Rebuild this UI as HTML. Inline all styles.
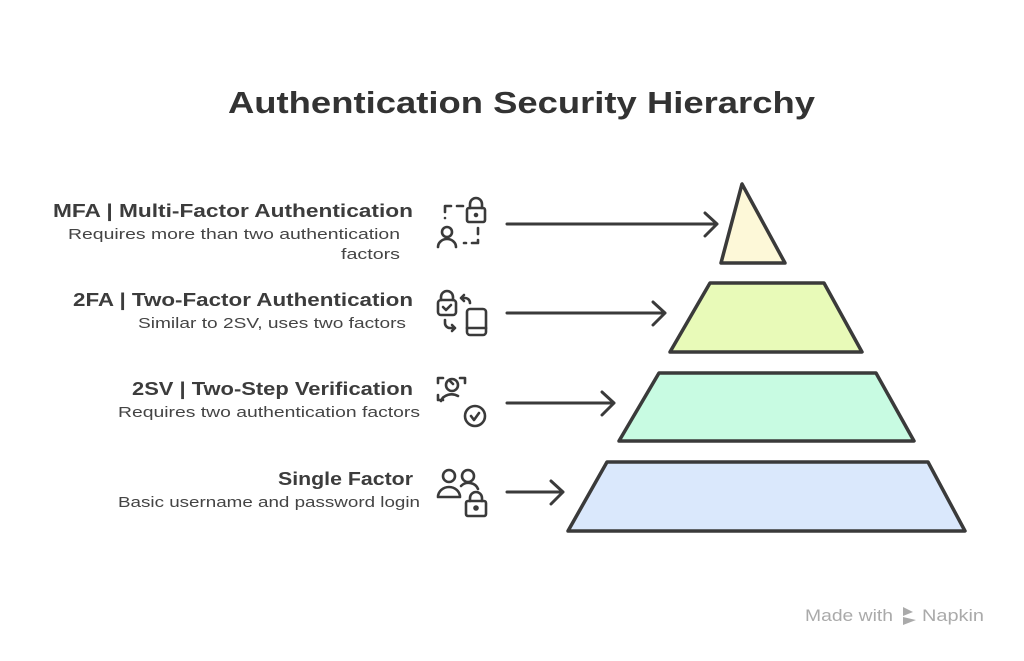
<!DOCTYPE html>
<html><head><meta charset="utf-8"><style>
html,body{margin:0;padding:0;background:#fff;width:1024px;height:661px;overflow:hidden}
svg{display:block}
text{font-family:"Liberation Sans",sans-serif;fill:#3c3c3c}
.h{font-weight:bold;font-size:18px}
.d{font-size:15px;fill:#444}
</style></head><body>
<svg width="1024" height="661" viewBox="0 0 1024 661">
<text x="228" y="113" textLength="587" lengthAdjust="spacingAndGlyphs" style="font-weight:bold;font-size:31px;fill:#333">Authentication Security Hierarchy</text>

<g stroke="#3a3a3a" stroke-width="3.5" stroke-linejoin="round">
<polygon points="742,184 721,263 785,263" fill="#fdf8d8"/>
<polygon points="710,283 824,283 862,352 670,352" fill="#e8fab8"/>
<polygon points="659,373 876,373 914,441 619,441" fill="#c8fbe2"/>
<polygon points="607,462 928,462 965,531 568,531" fill="#dae8fc"/>
</g>

<g stroke="#3a3a3a" stroke-width="3" fill="none" stroke-linecap="round" stroke-linejoin="round">
<path d="M507,224 H717 M705,213 L717,224 L705,236"/>
<path d="M507,313 H665 M653,302 L665,313 L653,325"/>
<path d="M507,403 H614 M602,392 L614,403 L602,415"/>
<path d="M507,492 H563 M551,481 L563,492 L551,504"/>
</g>

<g stroke="#3a3a3a" stroke-width="2.6" fill="none" stroke-linecap="round" stroke-linejoin="round">
<path d="M445,212 v-6 h6 M457,206 h6 M445,218 v0"/>
<rect x="467" y="208" width="18" height="14" rx="2"/><path d="M470,208 v-4 a6,6 0 0 1 12,0 v4"/>
<circle cx="476" cy="215" r="1" fill="#3a3a3a"/>
<path d="M478,228 v6 M478,240 v3 h-6 M466,243 h-2"/>
<circle cx="447" cy="232" r="5"/><path d="M438,247 a9,8 0 0 1 18,0"/>
<rect x="438" y="300" width="18" height="15" rx="3"/><path d="M441,300 v-3 a6,6 0 0 1 12,0 v3"/><path d="M443,307 l3,3 l5,-5"/>
<path d="M470,303 a5,5 0 0 0 -5,-5 h-4 M464,295 l-3,3 l3,3"/>
<rect x="467" y="309" width="19" height="26" rx="3"/><path d="M467,328 h19"/>
<path d="M445,320 v3 a5,5 0 0 0 5,5 h5 M452,325 l3,3 l-3,3"/>
<path d="M438,383 v-5 h5 M460,378 h5 v5 M438,395 v5 h5"/>
<circle cx="452" cy="385" r="6"/><path d="M450,381 l3,3"/>
<path d="M441,401 a11,9 0 0 1 17,-5"/>
<circle cx="475" cy="416" r="10"/><path d="M471,416 l3,4 l5,-7"/>
<circle cx="449" cy="476" r="6"/><circle cx="468" cy="476" r="6"/>
<path d="M438,497 a11,10 0 0 1 22,0 z"/><path d="M461,486 a10,9 0 0 1 17,3"/>
<rect x="466" y="501" width="20" height="15" rx="2"/><path d="M470,501 v-3 a6,6 0 0 1 12,0 v3"/>
<circle cx="476" cy="508" r="1.5" fill="#3a3a3a"/>
</g>

<text class="h" x="53" y="217" textLength="360" lengthAdjust="spacingAndGlyphs">MFA | Multi-Factor Authentication</text>
<text class="d" x="68" y="239" textLength="332" lengthAdjust="spacingAndGlyphs">Requires more than two authentication</text>
<text class="d" x="341" y="259" textLength="59" lengthAdjust="spacingAndGlyphs">factors</text>

<text class="h" x="73" y="306" textLength="340" lengthAdjust="spacingAndGlyphs">2FA | Two-Factor Authentication</text>
<text class="d" x="138" y="328" textLength="268" lengthAdjust="spacingAndGlyphs">Similar to 2SV, uses two factors</text>

<text class="h" x="132" y="395" textLength="281" lengthAdjust="spacingAndGlyphs">2SV | Two-Step Verification</text>
<text class="d" x="118" y="417" textLength="302" lengthAdjust="spacingAndGlyphs">Requires two authentication factors</text>

<text class="h" x="278" y="485" textLength="135" lengthAdjust="spacingAndGlyphs">Single Factor</text>
<text class="d" x="118" y="507" textLength="302" lengthAdjust="spacingAndGlyphs">Basic username and password login</text>

<text x="805" y="621" textLength="88" lengthAdjust="spacingAndGlyphs" style="font-size:17px;fill:#aaa">Made with</text>
<g fill="#aaa"><path d="M903,607 l10,5 l-10,4 z M903,617 l13,3 l-13,5 z"/></g>
<text x="922" y="621" textLength="62" lengthAdjust="spacingAndGlyphs" style="font-size:17px;fill:#aaa">Napkin</text>
</svg>
</body></html>
